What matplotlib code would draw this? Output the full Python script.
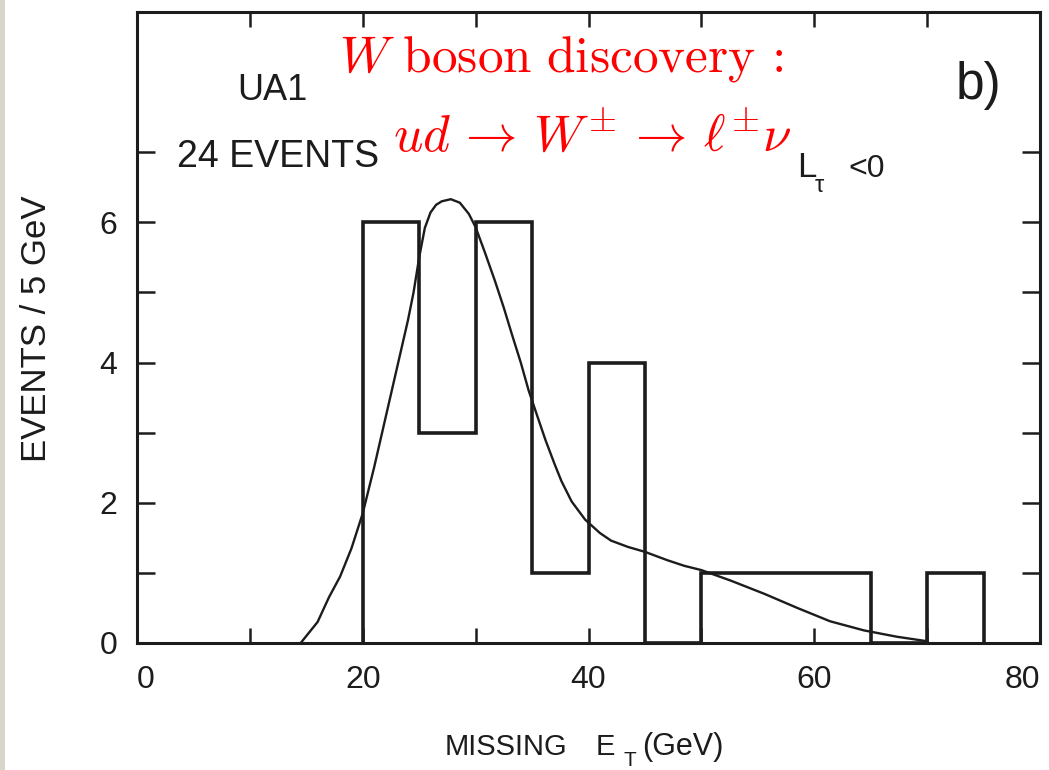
import matplotlib
matplotlib.use("Agg")
import matplotlib.pyplot as plt
from matplotlib.patches import Rectangle

# UA1 missing transverse energy spectrum, 5 GeV bins
bin_edges = [20, 25, 30, 35, 40, 45, 50, 55, 60, 65, 70, 75]
bin_counts = [6, 3, 6, 1, 4, 0, 1, 1, 1, 0, 1]

# Expected W -> e nu shape
curve_x = [14.5, 16.0, 17.0, 18.0, 19.0, 20.0, 21.0, 22.0, 23.0, 24.0, 24.5,
           25.0, 25.5, 26.0, 26.5, 27.0, 27.8, 28.6, 29.4, 30.0, 30.8, 31.7,
           32.5, 33.2, 34.0, 34.7, 35.5, 36.2, 37.0, 37.6, 38.5, 39.7, 41.0,
           42.0, 43.5, 45.0, 47.0, 48.5, 50.0, 52.6, 55.6, 58.5, 61.4, 64.4,
           67.3, 69.8]
curve_y = [0.0, 0.30, 0.65, 0.95, 1.35, 1.85, 2.50, 3.20, 3.90, 4.60, 5.00,
           5.50, 5.92, 6.14, 6.25, 6.30, 6.33, 6.28, 6.12, 5.93, 5.58, 5.17,
           4.78, 4.41, 4.00, 3.60, 3.22, 2.89, 2.55, 2.31, 2.02, 1.76, 1.57,
           1.46, 1.37, 1.30, 1.18, 1.10, 1.04, 0.89, 0.70, 0.50, 0.31, 0.18,
           0.09, 0.03]

x_major = [0, 20, 40, 60, 80]
x_minor = [10, 30, 50, 70]
y_major = [0, 2, 4, 6]
y_minor = [1, 3, 5, 7]

INK = "#1c1c1c"
RED = "#ff0000"
PLOT_FONT = ["Liberation Sans", "DejaVu Sans"]
plt.rcParams["font.family"] = PLOT_FONT

W, H = 1049, 770
fig = plt.figure(figsize=(W / 100, H / 100), dpi=100)
fig.patch.set_facecolor("white")

# scanned-page edge on the left
fig.patches.append(Rectangle((0, 0), 5 / W, 1, transform=fig.transFigure,
                             facecolor="#d9d5cb", edgecolor="none", zorder=0))

L, R, B, T = 137, 1040, 643, 12
ax = fig.add_axes([L / W, (H - B) / H, (R - L) / W, (B - T) / H])
ax.set_xlim(0, 80)
ax.set_ylim(0, 9)
ax.set_facecolor("white")

for s in ax.spines.values():
    s.set_linewidth(2.2)
    s.set_color(INK)

ax.stairs(bin_counts, bin_edges, baseline=0, color=INK, linewidth=2.6)
ax.plot(curve_x, curve_y, color=INK, linewidth=1.7, solid_capstyle="round")

ax.set_xticks(x_major)
ax.set_xticks(x_minor, minor=True)
ax.set_yticks(y_major)
ax.set_yticks(y_minor, minor=True)
ax.set_xticklabels([str(v) for v in x_major])
ax.set_yticklabels([str(v) for v in y_major])
for axis_name, length in (("x", 11), ("y", 13)):
    for which in ("major", "minor"):
        ax.tick_params(axis=axis_name, which=which, direction="in",
                       length=length, width=1.8, color=INK,
                       top=True, right=True)
ax.tick_params(axis="x", which="major", pad=16, labelsize=23, labelcolor=INK)
ax.tick_params(axis="y", which="major", pad=14, labelsize=23, labelcolor=INK)
xlabels = ax.get_xticklabels()
xlabels[0].set_horizontalalignment("left")
xlabels[-1].set_horizontalalignment("right")

xpx = (R - L) / 80.0
ypx = (B - T) / 9.0


def dx(px):
    return (px - L) / xpx


def dy(py):
    return (B - py) / ypx


ax.text(dx(237), dy(100), "UA1", fontsize=26, color=INK, ha="left", va="baseline")
ax.text(dx(177), dy(167), "24 EVENTS", fontsize=27, color=INK, ha="left", va="baseline")
ax.text(dx(956), dy(99), "b)", fontsize=37, color=INK, ha="left", va="baseline")
ax.text(dx(797), dy(177), "L", fontsize=25, color=INK, ha="left", va="baseline")
ax.text(dx(815), dy(192), "\u03c4", fontsize=17, color=INK, ha="left", va="baseline")
ax.text(dx(848), dy(177), "<0", fontsize=23, color=INK, ha="left", va="baseline")

ax.text(dx(561), dy(72), r"$W\ \mathrm{boson\ discovery}$ :", fontsize=37, color=RED,
        ha="center", va="baseline", math_fontfamily="cm", family=["cmr10"])
ax.text(dx(592), dy(151),
        r"$ud \,\rightarrow\, W^{\pm} \,\rightarrow\, \ell^{\pm}\nu$",
        fontsize=37, color=RED, ha="center", va="baseline", math_fontfamily="cm")

fig.text(445 / W, 1 - 755 / H, "MISSING", fontsize=21, color=INK, ha="left", va="baseline")
fig.text(596 / W, 1 - 755 / H, "E", fontsize=21, color=INK, ha="left", va="baseline")
fig.text(624 / W, 1 - 766 / H, "T", fontsize=15, color=INK, ha="left", va="baseline")
fig.text(642 / W, 1 - 755 / H, "(GeV)", fontsize=22, color=INK, ha="left", va="baseline")

fig.text(37 / W, 1 - 329 / H, "EVENTS / 5 GeV", fontsize=25, color=INK,
         rotation=90, ha="center", va="center")

fig.savefig("out.png", dpi=100, facecolor="white")
